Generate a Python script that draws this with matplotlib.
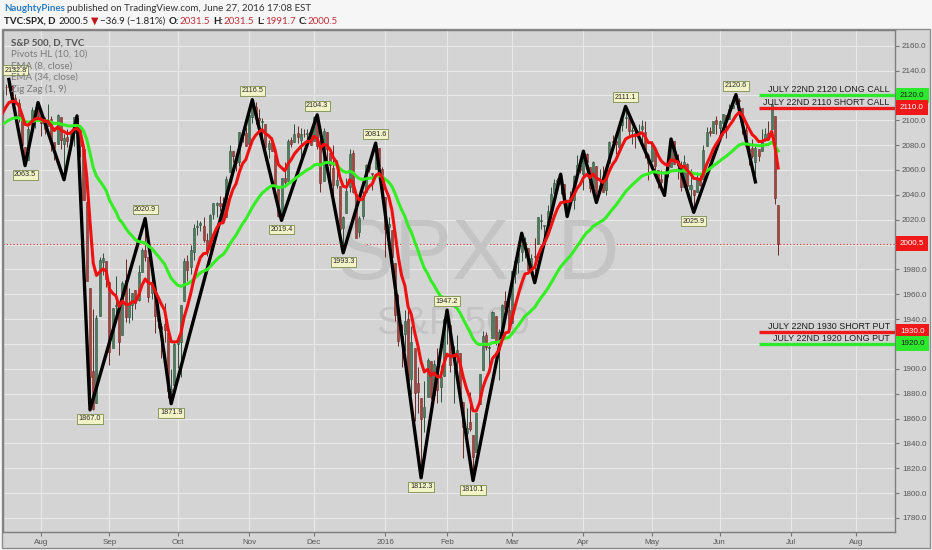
import matplotlib
matplotlib.use('Agg')
import matplotlib.pyplot as plt
import matplotlib.transforms as mtransforms
from matplotlib.patches import Rectangle
import numpy as np
import pandas as pd

# --- data: S&P 500 daily bars, 2015-07-16 .. 2016-06-27 (one line per month) ---
opens = [
    2110.5, 2126.8, 2126.9, 2127.6, 2118.2, 2114.2, 2102.2, 2078.2, 2067.8, 2093.4, 2106.8, 2111.6,
    2104.5, 2097.7, 2095.3, 2100.9, 2082.6, 2080.9, 2102.7, 2081.1, 2086.2, 2083.2, 2089.7, 2101.8, 2095.7, 2076.6, 2034.1, 1965.2, 1898.1, 1872.8, 1942.8, 1986.1, 1986.7,
    1970.1, 1916.5, 1950.8, 1947.8, 1927.3, 1971.5, 1941.6, 1951.5, 1963.1, 1955.1, 1978.0, 1995.3, 1989.7, 1960.8, 1961.4, 1943.2, 1934.8, 1935.9, 1929.2, 1881.9, 1887.1,
    1919.7, 1921.8, 1954.3, 1986.6, 1982.3, 1994.0, 2013.7, 2015.7, 2015.0, 2003.7, 1996.5, 2024.4, 2031.7, 2033.1, 2033.5, 2021.9, 2058.2, 2075.1, 2068.8, 2066.5, 2088.4, 2090.0,
    2080.8, 2102.6, 2110.6, 2101.7, 2098.6, 2096.6, 2077.2, 2083.4, 2072.3, 2044.6, 2022.1, 2053.7, 2051.0, 2083.7, 2082.8, 2089.4, 2084.4, 2089.3, 2088.8, 2090.9,
    2082.9, 2101.7, 2080.7, 2051.2, 2090.4, 2073.4, 2061.2, 2047.9, 2047.3, 2013.4, 2025.6, 2046.5, 2073.8, 2040.8, 2010.3, 2023.2, 2042.2, 2063.5, 2057.8, 2060.5, 2077.3, 2060.6,
    2038.2, 2013.8, 2011.7, 1985.3, 1945.9, 1926.1, 1927.8, 1940.3, 1891.7, 1916.7, 1888.7, 1876.2, 1861.5, 1877.4, 1906.3, 1878.8, 1902.5, 1885.2, 1894.0,
    1936.9, 1935.3, 1907.1, 1911.7, 1913.1, 1873.3, 1848.5, 1857.1, 1847.0, 1833.4, 1871.4, 1898.8, 1927.6, 1916.7, 1924.4, 1942.4, 1917.6, 1931.9, 1954.9, 1947.1,
    1937.1, 1976.6, 1985.6, 1994.0, 1996.1, 1996.9, 1981.4, 1990.9, 2000.3, 2019.3, 2015.3, 2014.2, 2026.9, 2041.2, 2047.9, 2048.6, 2048.6, 2032.5, 2037.9, 2035.8, 2058.3, 2063.8,
    2056.6, 2073.2, 2062.5, 2045.6, 2063.0, 2045.5, 2050.2, 2043.7, 2065.9, 2082.9, 2083.0, 2078.8, 2096.1, 2101.5, 2102.1, 2091.5, 2089.4, 2089.8, 2092.6, 2090.9, 2071.8,
    2067.2, 2077.2, 2060.3, 2052.9, 2047.8, 2057.6, 2062.6, 2083.3, 2067.2, 2062.5, 2046.5, 2065.0, 2044.4, 2044.2, 2041.9, 2052.2, 2052.7, 2078.9, 2091.4, 2090.1, 2100.1,
    2093.9, 2097.7, 2104.1, 2100.8, 2110.2, 2112.7, 2115.7, 2109.6, 2091.8, 2076.7, 2077.6, 2066.4, 2077.2, 2075.6, 2085.2, 2089.8, 2092.8, 2103.8, 2031.5,
]
highs = [
    2124.4, 2128.9, 2132.8, 2128.5, 2120.9, 2116.9, 2106.0, 2078.2, 2095.6, 2110.6, 2110.5, 2114.2,
    2105.7, 2102.5, 2112.7, 2103.3, 2082.6, 2105.4, 2102.7, 2089.1, 2092.9, 2092.5, 2102.9, 2103.5, 2096.2, 2076.6, 2034.1, 1965.2, 1948.0, 1943.1, 1989.6, 1993.5, 1986.7,
    1970.1, 1948.9, 1975.0, 1947.8, 1970.4, 1988.6, 1965.3, 1961.1, 1963.1, 1983.2, 1997.3, 2020.9, 1989.7, 1979.6, 1961.4, 1949.5, 1937.2, 1952.9, 1929.2, 1899.5, 1920.5,
    1927.2, 1951.4, 1989.2, 1991.6, 1999.3, 2016.5, 2020.1, 2018.7, 2022.3, 2009.6, 2024.2, 2033.5, 2034.5, 2039.1, 2037.9, 2055.2, 2079.7, 2075.1, 2070.4, 2090.4, 2092.5, 2094.3,
    2106.2, 2116.5, 2114.6, 2108.8, 2101.9, 2096.6, 2083.7, 2086.9, 2072.3, 2044.6, 2053.2, 2066.7, 2085.3, 2086.7, 2097.1, 2095.6, 2094.1, 2093.0, 2093.3, 2093.8,
    2103.4, 2104.3, 2085.0, 2093.8, 2090.4, 2073.9, 2080.3, 2067.7, 2047.3, 2022.9, 2053.9, 2076.7, 2076.4, 2040.8, 2022.9, 2042.7, 2064.7, 2067.4, 2057.8, 2081.6, 2077.3, 2062.5,
    2038.2, 2021.9, 2011.7, 1985.3, 1960.4, 1935.7, 1947.4, 1950.3, 1934.5, 1916.7, 1901.4, 1876.2, 1889.9, 1908.9, 1906.3, 1906.7, 1916.9, 1902.9, 1940.2,
    1947.2, 1935.3, 1918.0, 1927.4, 1913.1, 1873.3, 1868.3, 1881.6, 1847.0, 1864.8, 1895.8, 1930.7, 1930.0, 1918.8, 1946.7, 1942.4, 1932.1, 1951.8, 1962.9, 1958.3,
    1978.4, 1986.5, 1993.7, 2009.1, 2006.1, 1996.9, 1992.7, 2005.1, 2022.4, 2024.6, 2015.9, 2032.0, 2046.2, 2052.4, 2053.9, 2056.6, 2048.6, 2036.0, 2042.7, 2055.9, 2072.2, 2067.9,
    2075.1, 2074.0, 2062.5, 2067.3, 2063.0, 2060.6, 2062.9, 2065.1, 2083.2, 2087.8, 2083.2, 2094.7, 2104.4, 2111.1, 2103.8, 2094.3, 2089.4, 2096.9, 2099.9, 2099.3, 2073.9,
    2083.4, 2077.2, 2060.3, 2060.2, 2057.7, 2064.2, 2084.9, 2083.3, 2073.0, 2066.8, 2071.9, 2065.7, 2060.6, 2044.2, 2058.4, 2055.6, 2079.7, 2094.7, 2094.3, 2099.3, 2103.5,
    2100.0, 2105.3, 2104.1, 2113.4, 2119.2, 2120.6, 2117.6, 2109.6, 2098.1, 2081.3, 2085.0, 2079.6, 2077.2, 2093.1, 2093.7, 2099.7, 2113.3, 2103.8, 2031.5,
]
lows = [
    2110.5, 2119.9, 2123.7, 2115.4, 2112.8, 2098.6, 2077.1, 2063.5, 2067.8, 2090.8, 2094.1, 2102.1,
    2087.3, 2088.6, 2095.3, 2075.5, 2067.9, 2080.9, 2076.5, 2052.1, 2078.3, 2080.6, 2079.3, 2094.1, 2070.5, 2035.7, 1970.9, 1867.0, 1867.1, 1872.8, 1942.8, 1975.2, 1965.9,
    1903.1, 1916.5, 1944.7, 1911.2, 1927.3, 1937.9, 1937.2, 1939.2, 1948.3, 1954.3, 1977.9, 1986.7, 1953.5, 1955.8, 1929.2, 1932.6, 1908.9, 1921.5, 1876.9, 1871.9, 1887.1,
    1900.7, 1893.7, 1954.3, 1971.0, 1976.4, 1987.5, 2007.6, 2010.6, 2001.8, 1990.7, 1996.5, 2020.5, 2022.3, 2026.6, 2017.2, 2021.9, 2058.2, 2066.5, 2058.8, 2063.1, 2082.6, 2079.3,
    2080.8, 2097.5, 2096.9, 2090.4, 2083.7, 2068.2, 2069.9, 2074.9, 2045.7, 2022.0, 2019.4, 2045.9, 2051.0, 2078.8, 2082.8, 2081.4, 2070.3, 2086.3, 2084.1, 2080.4,
    2082.9, 2077.1, 2042.4, 2051.2, 2066.8, 2052.3, 2036.5, 2045.1, 2008.8, 1993.3, 2025.6, 2042.4, 2041.7, 2005.3, 2005.9, 2020.5, 2042.2, 2058.7, 2044.2, 2060.5, 2061.9, 2043.6,
    1989.7, 2004.2, 1979.1, 1938.8, 1918.5, 1901.1, 1914.4, 1886.3, 1878.9, 1857.8, 1864.6, 1812.3, 1848.9, 1877.4, 1875.9, 1878.8, 1872.7, 1873.6, 1894.0,
    1920.3, 1897.3, 1872.2, 1900.5, 1872.7, 1828.5, 1834.9, 1850.3, 1810.1, 1833.4, 1871.4, 1898.8, 1915.1, 1902.2, 1924.4, 1919.4, 1891.0, 1925.4, 1945.8, 1931.8,
    1937.1, 1968.8, 1977.4, 1986.6, 1989.4, 1979.3, 1979.8, 1969.3, 2000.3, 2012.1, 2005.2, 2010.0, 2022.2, 2041.2, 2043.1, 2040.6, 2034.9, 2022.5, 2031.9, 2028.3, 2058.3, 2057.5,
    2043.9, 2062.6, 2042.6, 2043.1, 2033.8, 2041.7, 2041.9, 2039.7, 2065.9, 2078.1, 2073.0, 2073.7, 2091.7, 2093.8, 2088.5, 2081.2, 2077.5, 2085.8, 2082.3, 2070.0, 2052.3,
    2066.1, 2054.9, 2045.6, 2045.8, 2039.5, 2054.3, 2062.6, 2064.5, 2053.1, 2043.1, 2046.5, 2040.8, 2034.5, 2025.9, 2041.9, 2047.3, 2052.7, 2078.9, 2087.1, 2090.1, 2088.7,
    2086.0, 2088.5, 2085.4, 2100.8, 2110.2, 2112.7, 2107.0, 2089.2, 2078.5, 2064.1, 2069.8, 2050.4, 2067.3, 2075.6, 2083.0, 2084.4, 2092.8, 2032.6, 1991.7,
]
closes = [
    2124.3, 2126.6, 2128.3, 2119.2, 2114.2, 2102.2, 2079.7, 2067.6, 2093.3, 2108.6, 2108.6, 2103.8,
    2098.0, 2093.3, 2099.8, 2083.6, 2077.6, 2104.2, 2084.1, 2086.1, 2083.4, 2091.5, 2102.4, 2096.9, 2079.6, 2035.7, 1970.9, 1893.2, 1867.6, 1940.5, 1987.7, 1988.9, 1972.2,
    1913.9, 1948.9, 1951.1, 1921.2, 1969.4, 1942.0, 1952.3, 1961.1, 1953.0, 1978.1, 1995.3, 1990.2, 1958.0, 1967.0, 1942.7, 1938.8, 1932.2, 1931.3, 1881.8, 1884.1, 1920.0,
    1923.8, 1951.4, 1987.1, 1979.9, 1995.8, 2013.4, 2014.9, 2017.5, 2003.7, 1994.2, 2023.9, 2033.1, 2033.7, 2030.8, 2018.9, 2052.5, 2075.2, 2071.2, 2065.9, 2090.4, 2089.4, 2079.4,
    2104.1, 2109.8, 2102.3, 2099.9, 2099.2, 2078.6, 2081.7, 2075.0, 2046.0, 2023.0, 2053.2, 2050.4, 2083.6, 2081.2, 2089.2, 2086.6, 2089.1, 2088.9, 2090.1, 2080.4,
    2102.6, 2079.5, 2049.6, 2091.7, 2077.1, 2063.6, 2047.6, 2052.2, 2012.4, 2021.9, 2043.4, 2073.1, 2041.9, 2005.6, 2021.2, 2038.9, 2064.3, 2061.0, 2056.5, 2078.4, 2063.4, 2043.9,
    2012.7, 2016.7, 1990.3, 1943.1, 1922.0, 1923.7, 1938.7, 1890.3, 1921.8, 1880.3, 1881.3, 1859.3, 1869.0, 1906.9, 1877.1, 1903.6, 1883.0, 1893.4, 1940.2,
    1939.4, 1903.0, 1912.5, 1915.5, 1880.1, 1853.4, 1852.2, 1851.9, 1829.1, 1864.8, 1895.6, 1926.8, 1917.8, 1917.8, 1945.5, 1921.3, 1929.8, 1951.7, 1948.1, 1932.2,
    1978.4, 1986.5, 1993.4, 2000.0, 2001.8, 1979.3, 1989.3, 1989.6, 2022.2, 2019.6, 2015.9, 2027.2, 2040.6, 2049.6, 2051.6, 2049.8, 2036.7, 2035.9, 2037.1, 2055.0, 2064.0, 2059.7,
    2072.8, 2066.1, 2045.2, 2066.7, 2041.9, 2047.6, 2042.0, 2061.7, 2082.4, 2082.8, 2080.7, 2094.3, 2100.8, 2102.4, 2091.5, 2091.6, 2087.8, 2091.7, 2095.2, 2075.8, 2065.3,
    2081.4, 2063.4, 2051.1, 2050.6, 2057.1, 2058.7, 2084.4, 2064.5, 2064.1, 2046.6, 2066.7, 2047.2, 2047.6, 2040.0, 2052.3, 2048.0, 2076.1, 2090.5, 2090.1, 2099.1, 2097.0,
    2099.3, 2105.3, 2099.1, 2109.4, 2112.1, 2119.1, 2115.5, 2096.1, 2079.1, 2075.3, 2071.5, 2078.0, 2071.2, 2083.3, 2088.9, 2085.5, 2113.3, 2037.4, 2000.5,
]
market_holidays = ['2015-09-07', '2015-11-26', '2015-12-25', '2016-01-01', '2016-01-18',
                   '2016-02-15', '2016-03-25', '2016-05-30', '2016-07-04']

# EMA values at the left edge of the chart
ema8_seed = 2100.0
ema34_seed = 2095.0

# zig zag turning points: (date, 'H' = bar high / 'L' = bar low)
zz_dates = ['2015-07-20', '2015-07-27', '2015-07-31', '2015-08-12', '2015-08-18', '2015-08-24',
            '2015-09-17', '2015-09-29', '2015-11-03', '2015-11-16', '2015-12-02', '2015-12-14',
            '2015-12-29', '2016-01-20', '2016-02-01', '2016-02-11', '2016-03-04', '2016-03-10',
            '2016-03-22', '2016-03-24', '2016-04-01', '2016-04-07', '2016-04-20', '2016-05-06',
            '2016-05-10', '2016-05-19', '2016-06-08', '2016-06-16']
zz_kind = ['H', 'L', 'H', 'L', 'H', 'L', 'H', 'L', 'H', 'L', 'H', 'L', 'H', 'L', 'H', 'L',
           'H', 'L', 'H', 'L', 'H', 'L', 'H', 'L', 'H', 'L', 'H', 'L']

# labelled pivots (Pivots HL)
pivot_dates = ['2015-07-20', '2015-07-27', '2015-08-24', '2015-09-17', '2015-09-29', '2015-11-03',
               '2015-11-16', '2015-12-02', '2015-12-14', '2015-12-29', '2016-01-20', '2016-02-01',
               '2016-02-11', '2016-04-20', '2016-05-19', '2016-06-08']
pivot_kind = ['H', 'L', 'L', 'H', 'L', 'H', 'L', 'H', 'L', 'H', 'L', 'H', 'L', 'H', 'L', 'H']

# option strike lines drawn on the chart
strike_levels = [2120.0, 2110.0, 1930.0, 1920.0]
strike_labels = ['JULY 22ND 2120 LONG CALL', 'JULY 22ND 2110 SHORT CALL',
                 'JULY 22ND 1930 SHORT PUT', 'JULY 22ND 1920 LONG PUT']
strike_colors = ['#2ee82e', '#f01818', '#f01818', '#2ee82e']
strike_start = '2016-06-17'

# ----------------------------------------------------------------------------
plt.rcParams['font.family'] = ['Lato', 'DejaVu Sans']
axis_font = ['Liberation Sans', 'DejaVu Sans']

o = np.array(opens)
h = np.array(highs)
l = np.array(lows)
c = np.array(closes)
n = len(c)

days = pd.bdate_range('2015-07-16', '2016-08-31')
days = days[~days.isin(pd.to_datetime(market_holidays))]
pos = {d.strftime('%Y-%m-%d'): i for i, d in enumerate(days)}


def ema(values, span, seed):
    a = 2.0 / (span + 1)
    out = []
    prev = seed
    for v in values:
        prev = a * v + (1 - a) * prev
        out.append(prev)
    return np.array(out)


fig = plt.figure(figsize=(9.32, 5.5), dpi=100, facecolor='#f6f6f6')
fig.patches.append(Rectangle((2 / 932, 2 / 550), 928 / 932, 519 / 550, transform=fig.transFigure,
                             fc='#d6d6d6', ec='#8c8c8c', lw=1, zorder=-10))
ax = fig.add_axes([3 / 932, 18 / 550, 892 / 932, 502 / 550])
ax.set_zorder(2)
ax.set_facecolor('#d4d4d4')

x = np.arange(n)
up = c >= o
body_col = np.where(up, '#4f7d60', '#a8443f')
edge_col = np.where(up, '#2f4f3c', '#6e2a27')
ax.vlines(x, l, h, colors=edge_col, lw=0.7, zorder=2)
ax.bar(x, np.maximum(np.abs(c - o), 0.4), bottom=np.minimum(o, c), width=0.62,
       color=body_col, edgecolor=edge_col, lw=0.4, zorder=3)

# zig zag
zx = [pos[d] for d in zz_dates]
zy = [h[pos[d]] if k == 'H' else l[pos[d]] for d, k in zip(zz_dates, zz_kind)]
ax.plot(zx, zy, color='black', lw=2.4, zorder=4)

# EMAs
ax.plot(x, ema(c, 34, ema34_seed), color='#33ee22', lw=2.2, zorder=5)
ax.plot(x, ema(c, 8, ema8_seed), color='#f01010', lw=2.2, zorder=6)

# pivot labels
for d, k in zip(pivot_dates, pivot_kind):
    i = pos[d]
    v = h[i] if k == 'H' else l[i]
    dx = 5 if i < 5 else 0   # keep the first label inside the frame
    ax.annotate(f'{v:.1f}', xy=(i, v), xytext=(dx, 4 if k == 'H' else -4), textcoords='offset points',
                ha='center', va='bottom' if k == 'H' else 'top', fontsize=5.2, color='#2a2a2a',
                family=axis_font, zorder=8,
                bbox=dict(boxstyle='square,pad=0.2', fc='#f3f3c8', ec='#7c8c50', lw=0.6))

# last price dotted line
last = c[-1]
ax.axhline(last, color='#e03030', ls=(0, (1, 2)), lw=0.8, zorder=1)

blend = mtransforms.blended_transform_factory(ax.transAxes, ax.transData)
xmax = 275
for lev, lab, col in zip(strike_levels, strike_labels, strike_colors):
    ax.hlines(lev, pos[strike_start], xmax, color=col, lw=2.4, zorder=7)
    ax.text(0.994, lev + 0.8, lab, transform=blend, ha='right', va='bottom', fontsize=6.4,
            color='#1c1c1c', family=axis_font, zorder=9)

# price tags on the right scale
tags = [(lev, col) for lev, col in zip(strike_levels, strike_colors)] + [(last, '#f01818')]
for lev, col in tags:
    tc = '#1c1c1c' if col == '#2ee82e' else 'white'
    ax.annotate(f'{lev:.1f}', xy=(1.0, lev), xycoords=blend, xytext=(3.6, 0), textcoords='offset points',
                ha='left', va='center', fontsize=5.8, color=tc, family=axis_font,
                annotation_clip=False, zorder=10,
                bbox=dict(boxstyle='square,pad=0.5', fc=col, ec='none'))

# watermark + legend
ax.text(0.5325, 0.548, 'SPX, D', transform=ax.transAxes, ha='center', va='center', fontsize=62,
        color='#c4c4c4', family=axis_font, zorder=1)
ax.text(0.5045, 0.414, 'S&P 500', transform=ax.transAxes, ha='center', va='center', fontsize=28,
        color='#c4c4c4', family=axis_font, zorder=1)
legend_lines = ['Pivots HL (10, 10)', 'EMA (8, close)', 'EMA (34, close)', 'Zig Zag (1, 9)']
ax.text(8 / 892, 1 - 12.7 / 502, 'S&P 500, D, TVC', transform=ax.transAxes, va='center',
        fontsize=7, fontweight='bold', color='#555555', zorder=11)
for k, t in enumerate(legend_lines):
    ax.text(8 / 892, 1 - (24.3 + 11.6 * k) / 502, t, transform=ax.transAxes, va='center',
            fontsize=7, color='#7a7a7a', zorder=11)

# axes
ticks = [i for i in range(1, len(days)) if days[i].month != days[i - 1].month]
ax.set_xticks(ticks)
ax.set_xticklabels(['2016' if days[i].month == 1 else days[i].strftime('%b') for i in ticks],
                   family=axis_font)
ax.set_xlim(0.2, xmax)
ax.set_ylim(1768.7, 2172.6)
ax.yaxis.tick_right()
yt = np.arange(1780, 2161, 20)
covered = [t for t in yt if min(abs(t - lev) for lev, _ in tags) < 4]   # hidden behind a price tag
ax.set_yticks(yt)
ax.set_yticklabels(['' if t in covered else f'{t:.1f}' for t in yt], family=axis_font)
ax.tick_params(axis='x', length=3, color='#777777', labelsize=5.8, labelcolor='#555555', pad=2)
ax.tick_params(axis='y', length=3, color='#777777', labelsize=5.8, labelcolor='#555555', pad=2)
ax.grid(True, color='#e8e8e8', lw=0.8)
ax.set_axisbelow(True)
for s in ax.spines.values():
    s.set_color('#7d7d7d')
    s.set_linewidth(1)

# header
def chain(parts, y):
    t = fig.text(4 / 932, y, parts[0][0], color=parts[0][1], fontweight=parts[0][2],
                 fontsize=7, va='bottom')
    for txt, col, wt, gap in parts[1:]:
        t = ax.annotate(txt, xy=(1, 0), xycoords=t, xytext=(gap, 0), textcoords='offset points',
                        va='bottom', ha='left', color=col, fontweight=wt, fontsize=7,
                        annotation_clip=False)


red = '#c0303a'
dark = '#222222'
chg = c[-1] - c[-2]
pct = chg / c[-2] * 100
chain([('NaughtyPines', '#2b7cc0', 'bold'),
       ('published on TradingView.com, June 27, 2016 17:08 EST', '#333333', 'normal', 1.8)],
      1 - 13 / 550)
chain([('TVC:SPX, D', dark, 'bold'),
       (f'{c[-1]:.1f}', dark, 'normal', 2.5),
       ('\u25BC', '#c01818', 'normal', 1.5),
       (f'\u2212{abs(chg):.1f} (\u2212{abs(pct):.2f}%)', dark, 'normal', 1.2),
       ('O:', dark, 'bold', 2.2), (f'{o[-1]:.1f}', red, 'normal', 0.3),
       ('H:', dark, 'bold', 2.2), (f'{h[-1]:.1f}', red, 'normal', 0.3),
       ('L:', dark, 'bold', 2.2), (f'{l[-1]:.1f}', red, 'normal', 0.3),
       ('C:', dark, 'bold', 2.2), (f'{c[-1]:.1f}', red, 'normal', 0.3)], 1 - 26 / 550)

fig.savefig('out.png', dpi=100, facecolor=fig.get_facecolor())
